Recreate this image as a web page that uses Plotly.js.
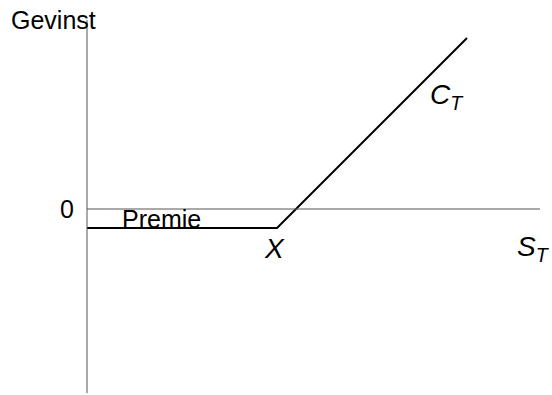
<!DOCTYPE html>
<html><head><meta charset="utf-8">
<script src="https://cdn.plot.ly/plotly-3.0.1.min.js"></script>
<style>html,body{margin:0;padding:0;background:#fff}</style>
</head><body><div id="chart" style="width:552px;height:395px"></div>
<script>
// Call option payoff (profit) diagram
const strike = 50;
const premium = 5;
const spotPrices = [0, 50, 100];
const profit = [-5, -5, 45];
const labels = {y: 'Gevinst', zero: '0', premium: 'Premie', strike: '<i>X</i>', spot: '<i>S<sub>T</sub></i>', call: '<i>C<sub>T</sub></i>'};

const pxPerUnit = 3.8;
const xr = [-87 / pxPerUnit, (552 - 87) / pxPerUnit];
const yr = [-(395 - 209) / pxPerUnit, 209 / pxPerUnit];
const f = {family: 'Liberation Sans', size: 25, color: '#000'};
const fm = {family: 'Liberation Sans', size: 28, color: '#000'};

const trace = {x: spotPrices, y: profit, type: 'scatter', mode: 'lines',
  line: {color: '#000', width: 2}, hoverinfo: 'skip', showlegend: false};

const layout = {
  width: 552, height: 395,
  margin: {l: 0, r: 0, t: 0, b: 0},
  paper_bgcolor: '#fff', plot_bgcolor: '#fff',
  xaxis: {range: xr, visible: false, fixedrange: true},
  yaxis: {range: yr, visible: false, fixedrange: true},
  shapes: [
    {type: 'line', xref: 'x', yref: 'y', x0: 0, x1: 0, y0: yr[0] + 0.5, y1: (209 - 20) / pxPerUnit, line: {color: '#555', width: 1}},
    {type: 'line', xref: 'x', yref: 'y', x0: 0, x1: (540 - 87) / pxPerUnit, y0: 0, y1: 0, line: {color: '#555', width: 1}}
  ],
  annotations: [
    {text: labels.y, x: -8.9, y: 49.7, xref: 'x', yref: 'y', showarrow: false, font: f},
    {text: labels.zero, x: -5.3, y: 0, xref: 'x', yref: 'y', showarrow: false, font: f},
    {text: labels.premium, x: 19.7, y: -2.6, xref: 'x', yref: 'y', showarrow: false, font: f},
    {text: labels.strike, x: 49.3, y: -10.3, xref: 'x', yref: 'y', showarrow: false, font: fm},
    {text: labels.spot, x: 117.5, y: -10.5, xref: 'x', yref: 'y', showarrow: false, font: fm},
    {text: labels.call, x: 94.7, y: 29.5, xref: 'x', yref: 'y', showarrow: false, font: fm}
  ]
};
Plotly.newPlot('chart', [trace], layout, {staticPlot: true, displayModeBar: false});
</script></body></html>
